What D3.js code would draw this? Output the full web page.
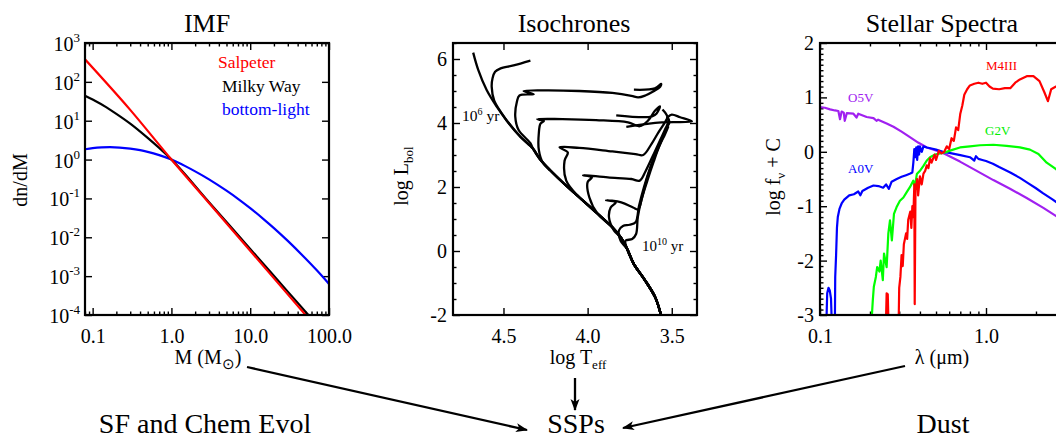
<!DOCTYPE html>
<html><head><meta charset="utf-8">
<script src="https://cdn.jsdelivr.net/npm/d3@7"></script>
<style>
body{margin:0;background:#fff}
svg{display:block;font-family:"Liberation Serif","Times New Roman",serif}
</style>
</head><body><script>
// ---------------- DATA ----------------
// IMF panel: [mass (Msun), dn/dM]
const imfSalpeter = [[0.08,380],[0.3,19],[1,1],[3,0.076],[10,0.0045],[30,3.4e-4],[100,2.0e-5]];
const imfMilkyWay = [[0.08,44],[0.1,35],[0.15,22],[0.2,15],[0.3,8.4],[0.5,3.6],[0.7,1.98],[1,1],[3,0.08],[10,0.005],[30,4.0e-4],[100,2.5e-5]];
const imfBottomLight = [[0.08,1.84],[0.1,1.96],[0.13,2.05],[0.166,2.08],[0.22,2.04],[0.3,1.92],[0.4,1.75],[0.5,1.58],[0.7,1.3],[1,1.0],[1.5,0.678],[2,0.497],[3,0.31],[5,0.158],[7,0.0977],[10,0.0562],[15,0.0286],[20,0.01725],[30,0.00807],[50,0.00288],[70,0.00141],[100,0.00063]];
const imfXTicks = [0.1,1,10,100];
const imfXLabels = ["0.1","1.0","10.0","100.0"];
const imfYExps = [-4,-3,-2,-1,0,1,2,3];
const imfLegend = [["Salpeter","#ff0000"],["Milky Way","#000000"],["bottom-light","#0000ff"]];

// Isochrones: [log Teff, log L]
const mainSeq = [[3.563,-2.02],[3.598,-1.45],[3.657,-0.93],[3.725,-0.41],[3.765,0.06],[3.804,0.43],[3.853,0.74],[3.971,1.31],[4.05,1.68],[4.127,2.04],[4.224,2.53],[4.284,2.875],[4.325,3.2],[4.40,3.57],[4.48,4.07],[4.54,4.51],[4.6,5.03],[4.65,5.66],[4.68,6.2]];
const iso65 = [[4.51,4.3],[4.555,4.7],[4.57,5.13],[4.565,5.4],[4.55,5.6],[4.52,5.7],[4.44,5.8],[4.34,5.95]];
const iso70 = [[4.34,3.37],[4.41,3.78],[4.43,4.2],[4.42,4.67],[4.405,4.86],[4.32,4.9],[4.38,5.0],[4.25,5.02],[4.05,5.0],[3.853,4.94],[3.74,4.85],[3.70,4.8],[3.657,4.86],[3.608,4.99],[3.569,5.13],[3.563,5.22],[3.60,5.08],[3.725,5.04]];
const iso75 = [[4.224,2.53],[4.265,2.75],[4.29,3.16],[4.29,3.68],[4.28,3.98],[4.26,4.06],[4.30,4.12],[4.15,4.12],[3.95,4.09],[3.76,4.02],[3.69,3.9],[3.64,4.08],[3.60,4.38],[3.57,4.52],[3.59,4.3],[3.62,4.2],[3.83,4.24]];
const iso80 = [[4.05,1.68],[4.127,2.2],[4.137,2.82],[4.118,3.08],[4.167,3.24],[4.05,3.22],[3.853,3.11],[3.716,3.03],[3.67,3.0],[3.62,3.35],[3.58,3.7],[3.545,3.98],[3.52,4.2],[3.50,4.26],[3.45,4.18],[3.38,4.05],[3.56,4.02],[3.77,3.88]];
const iso85 = [[3.94,1.16],[3.99,1.68],[4.0,2.15],[3.975,2.3],[4.027,2.37],[3.88,2.3],[3.74,2.25],[3.69,2.2],[3.655,2.5],[3.61,3.0],[3.57,3.45],[3.54,3.8],[3.52,4.05],[3.53,4.25],[3.555,4.42]];
const iso90 = [[3.843,0.64],[3.873,1.05],[3.863,1.36],[3.833,1.52],[3.89,1.59],[3.80,1.52],[3.73,1.36],[3.70,1.3],[3.675,1.7],[3.645,2.3],[3.605,2.9],[3.565,3.4],[3.535,3.8],[3.515,4.05],[3.53,4.2]];
const iso95 = [[3.804,0.32],[3.814,0.64],[3.79,0.78],[3.75,0.82],[3.715,0.9],[3.695,1.4],[3.665,2.0],[3.625,2.65],[3.585,3.2],[3.55,3.6],[3.525,3.9],[3.51,4.05]];
const iso100 = [[3.765,0.06],[3.775,0.32],[3.735,0.375],[3.712,0.53],[3.702,1.05],[3.68,1.6],[3.645,2.2],[3.607,2.8],[3.572,3.3],[3.54,3.65],[3.52,3.9]];
const isoXTicks = [4.5,4.0,3.5];
const isoYTicks = [-2,0,2,4,6];

// Stellar spectra: [lambda (micron), log f_nu + C]
const specO5V = [[0.1,0.82],[0.107,0.81],[0.115,0.78],[0.123,0.76],[0.129,0.75],[0.132,0.6],[0.135,0.74],[0.139,0.72],[0.141,0.57],[0.145,0.71],[0.159,0.70],[0.166,0.63],[0.170,0.70],[0.191,0.64],[0.21,0.62],[0.219,0.57],[0.224,0.59],[0.252,0.52],[0.277,0.46],[0.31,0.37],[0.348,0.27],[0.39,0.17],[0.44,0.08],[0.505,0.02],[0.566,-0.04],[0.697,-0.18],[0.879,-0.35],[1.107,-0.52],[1.395,-0.68],[1.758,-0.85],[2.215,-1.03],[2.67,-1.19],[3.06,-1.29]];
const specA0V = [[0.1095,-3.05],[0.1105,-2.6],[0.1125,-2.5],[0.1145,-2.55],[0.1165,-2.7],[0.1175,-3.05],[0.123,-3.05],[0.1235,-2.3],[0.125,-1.9],[0.1265,-1.4],[0.128,-1.2],[0.131,-1.05],[0.135,-0.95],[0.14,-0.88],[0.15,-0.8],[0.16,-0.78],[0.17,-0.73],[0.175,-0.8],[0.18,-0.72],[0.195,-0.66],[0.21,-0.62],[0.225,-0.63],[0.24,-0.66],[0.25,-0.6],[0.26,-0.68],[0.27,-0.55],[0.29,-0.5],[0.31,-0.46],[0.33,-0.43],[0.35,-0.4],[0.36,-0.38],[0.365,-0.2],[0.37,0.05],[0.375,-0.1],[0.38,0.08],[0.385,-0.15],[0.39,0.1],[0.395,-0.05],[0.40,0.1],[0.41,0.0],[0.42,0.1],[0.44,0.08],[0.47,0.06],[0.5,0.04],[0.55,0.0],[0.6,-0.02],[0.7,-0.06],[0.8,-0.1],[0.85,-0.16],[0.87,-0.08],[0.9,-0.13],[0.95,-0.15],[1.0,-0.17],[1.1,-0.22],[1.2,-0.28],[1.4,-0.38],[1.6,-0.48],[1.8,-0.58],[2.0,-0.67],[2.2,-0.76],[2.5,-0.87],[2.7,-0.94],[3.0,-1.04]];
const specG2V = [[0.205,-3.05],[0.208,-2.73],[0.211,-2.48],[0.217,-2.3],[0.221,-2.12],[0.228,-2.2],[0.232,-2.0],[0.239,-2.36],[0.243,-1.87],[0.252,-2.12],[0.258,-1.5],[0.264,-1.26],[0.271,-1.63],[0.279,-1.14],[0.289,-1.02],[0.303,-0.9],[0.318,-0.84],[0.333,-0.74],[0.348,-0.65],[0.365,-0.53],[0.373,-0.65],[0.383,-0.41],[0.4,-0.35],[0.42,-0.26],[0.44,-0.16],[0.46,-0.1],[0.494,-0.05],[0.53,-0.03],[0.566,-0.01],[0.62,0.03],[0.697,0.08],[0.8,0.1],[0.92,0.12],[1.107,0.13],[1.33,0.11],[1.6,0.08],[1.84,0.04],[2.07,-0.04],[2.32,-0.2],[2.64,-0.32],[3.06,-0.44]];
const specM4III = [[0.25,-3.05],[0.252,-2.6],[0.256,-2.62],[0.258,-3.05],[0.298,-3.05],[0.30,-2.5],[0.305,-2.3],[0.31,-1.9],[0.315,-2.1],[0.32,-1.7],[0.33,-1.5],[0.335,-1.6],[0.34,-1.25],[0.35,-1.1],[0.355,-1.4],[0.36,-1.0],[0.365,-1.2],[0.37,-0.6],[0.372,-2.8],[0.376,-0.7],[0.385,-0.5],[0.39,-0.8],[0.4,-0.45],[0.41,-0.6],[0.42,-0.4],[0.43,-0.35],[0.44,-0.25],[0.45,-0.3],[0.46,-0.12],[0.47,-0.2],[0.49,-0.05],[0.5,-0.15],[0.52,0.02],[0.54,-0.03],[0.56,0.0],[0.58,0.1],[0.6,0.05],[0.62,0.25],[0.64,0.2],[0.66,0.45],[0.68,0.4],[0.7,0.7],[0.72,0.85],[0.74,1.05],[0.77,1.15],[0.8,1.22],[0.85,1.25],[0.9,1.27],[0.95,1.25],[1.0,1.27],[1.05,1.2],[1.1,1.16],[1.2,1.15],[1.3,1.17],[1.4,1.17],[1.5,1.27],[1.6,1.33],[1.76,1.39],[1.93,1.39],[2.1,1.3],[2.25,1.09],[2.36,0.93],[2.47,1.15],[2.64,1.2],[3.0,1.22]];
const specXTicks = [0.1,1];
const specXLabels = ["0.1","1.0"];
const specYTicks = [-3,-2,-1,0,1,2];

// ---------------- DRAW ----------------
const W=1056,H=439;
const svg=d3.select("body").append("svg").attr("width",W).attr("height",H);
const FS=20;
const hyph = f => (d => f(d).replace("\u2212","-"));

const defs=svg.append("defs");
defs.append("marker").attr("id","ah").attr("viewBox","0 -5 12 10").attr("refX",11).attr("refY",0)
  .attr("markerWidth",12).attr("markerHeight",10).attr("markerUnits","userSpaceOnUse").attr("orient","auto")
  .append("path").attr("d","M0,-4.5L12,0L0,4.5L3,0Z").attr("fill","#000");

function clip(id,x0,x1,y0,y1){
  defs.append("clipPath").attr("id",id).append("rect").attr("x",x0).attr("y",y0).attr("width",x1-x0).attr("height",y1-y0);
}
function styleAxis(g){
  g.select(".domain").remove();
  g.selectAll("line").attr("stroke","#000").attr("stroke-width",1.4);
  g.selectAll("text").attr("font-size",FS).attr("fill","#000").attr("font-family","Liberation Serif");
}
function axes(x,y,xMaj,xMin,yMaj,yMin,x0,x1,y0,y1,xFmt,yFmt){
  const L=7,S=3.5;
  const put=(gen,tr)=>{const g=svg.append("g").attr("transform",tr).call(gen);styleAxis(g);return g;};
  put(d3.axisBottom(x).tickValues(xMaj).tickSize(-L).tickPadding(14).tickFormat(xFmt||""),`translate(0,${y1})`);
  put(d3.axisTop(x).tickValues(xMaj).tickSize(-L).tickFormat(""),`translate(0,${y0})`);
  if(xMin.length){
    put(d3.axisBottom(x).tickValues(xMin).tickSize(-S).tickFormat(""),`translate(0,${y1})`);
    put(d3.axisTop(x).tickValues(xMin).tickSize(-S).tickFormat(""),`translate(0,${y0})`);
  }
  put(d3.axisLeft(y).tickValues(yMaj).tickSize(-L).tickPadding(6).tickFormat(yFmt||""),`translate(${x0},0)`);
  put(d3.axisRight(y).tickValues(yMaj).tickSize(-L).tickFormat(""),`translate(${x1},0)`);
  if(yMin.length){
    put(d3.axisLeft(y).tickValues(yMin).tickSize(-S).tickFormat(""),`translate(${x0},0)`);
    put(d3.axisRight(y).tickValues(yMin).tickSize(-S).tickFormat(""),`translate(${x1},0)`);
  }
}
function frame(x0,x1,y0,y1){
  svg.append("rect").attr("x",x0).attr("y",y0).attr("width",x1-x0).attr("height",y1-y0)
    .attr("fill","none").attr("stroke","#000").attr("stroke-width",2.2);
}
function title(t,cx){
  svg.append("text").attr("x",cx).attr("y",32).attr("text-anchor","middle").attr("font-size",26).text(t);
}
function ylabel(cx,cy,build){
  const t=svg.append("text").attr("transform",`translate(${cx},${cy}) rotate(-90)`).attr("text-anchor","middle").attr("font-size",FS);
  build(t);
}

// ---- IMF ----
{
  const x0=85,x1=329,y0=43,y1=315;
  const x=d3.scaleLog().domain([0.08,100]).range([x0,x1]);
  const y=d3.scaleLog().domain([1e-4,1e3]).range([y1,y0]);
  clip("cImf",x0,x1,y0,y1);
  const xMin=[];
  [0.01,0.1,1,10].forEach(d=>{for(let k=2;k<=9;k++){const v=d*k;if(v>=0.08&&v<=100)xMin.push(v);}});
  axes(x,y,imfXTicks,xMin,imfYExps.map(e=>Math.pow(10,e)),[],x0,x1,y0,y1,(d,i)=>imfXLabels[i],null);
  const gy=svg.append("g");
  imfYExps.forEach(e=>{
    const t=gy.append("text").attr("x",x0-5).attr("y",y(Math.pow(10,e))+8).attr("text-anchor","end").attr("font-size",FS);
    t.append("tspan").text("10");
    t.append("tspan").attr("font-size",13).attr("dy",-9).text(e);
  });
  const line=d3.line().x(d=>x(d[0])).y(d=>y(d[1])).curve(d3.curveMonotoneX);
  const g=svg.append("g").attr("clip-path","url(#cImf)");
  g.append("path").datum(imfBottomLight).attr("d",line).attr("fill","none").attr("stroke","#0000ff").attr("stroke-width",2.2);
  g.append("path").datum(imfMilkyWay).attr("d",line).attr("fill","none").attr("stroke","#000").attr("stroke-width",2.2);
  g.append("path").datum(imfSalpeter).attr("d",line).attr("fill","none").attr("stroke","#ff0000").attr("stroke-width",2.2);
  frame(x0,x1,y0,y1);
  const lx=[218,222,222], ly=[68,92,115];
  imfLegend.forEach((d,i)=>svg.append("text").attr("x",lx[i]).attr("y",ly[i]).attr("font-size",17.5).attr("fill",d[1]).text(d[0]));
  title("IMF",207);
  const t=svg.append("text").attr("x",208).attr("y",364).attr("text-anchor","middle").attr("font-size",FS);
  t.append("tspan").text("M (M");
  t.append("tspan").attr("font-size",15).attr("dy",5).text("\u2299");
  t.append("tspan").attr("dy",-5).text(")");
  ylabel(27,180,t=>t.text("dn/dM"));
}

// ---- Isochrones ----
{
  const x0=453,x1=697,y0=43,y1=315;
  const x=d3.scaleLinear().domain([4.8,3.35]).range([x0,x1]);
  const y=d3.scaleLinear().domain([-2,6.5]).range([y1,y0]);
  clip("cIso",x0,x1,y0,y1);
  const yMin=d3.range(-2,6.51,0.5).filter(v=>v%2!==0);
  axes(x,y,isoXTicks,[],isoYTicks,yMin,x0,x1,y0,y1,d3.format(".1f"),hyph(d3.format("d")));
  const line=d3.line().x(d=>x(d[0])).y(d=>y(d[1])).curve(d3.curveCatmullRom.alpha(0.5));
  const g=svg.append("g").attr("clip-path","url(#cIso)");
  const isos=[iso65,iso70,iso75,iso80,iso85,iso90,iso95,iso100];
  const drawIso=pts=>g.append("path").datum(pts).attr("d",line).attr("fill","none").attr("stroke","#000").attr("stroke-width",2.3).attr("stroke-linejoin","round");
  drawIso(mainSeq);
  isos.forEach(iso=>drawIso(mainSeq.filter(p=>p[1]<iso[0][1]).concat(iso)));
  frame(x0,x1,y0,y1);
  const a=svg.append("text").attr("x",462).attr("y",121).attr("font-size",15.5);
  a.append("tspan").text("10"); a.append("tspan").attr("font-size",10).attr("dy",-6).text("6"); a.append("tspan").attr("dy",6).text(" yr");
  const b=svg.append("text").attr("x",642).attr("y",251).attr("font-size",15);
  b.append("tspan").text("10"); b.append("tspan").attr("font-size",10).attr("dy",-6).text("10"); b.append("tspan").attr("dy",6).text(" yr");
  title("Isochrones",574);
  const t=svg.append("text").attr("x",578).attr("y",364).attr("text-anchor","middle").attr("font-size",FS);
  t.append("tspan").text("log T"); t.append("tspan").attr("font-size",13).attr("dy",5).text("eff");
  ylabel(408,176,t=>{t.append("tspan").text("log L"); t.append("tspan").attr("font-size",13).attr("dy",5).text("bol");});
}

// ---- Stellar spectra ----
{
  const x0=820,x1=1064,y0=43,y1=315;
  const x=d3.scaleLog().domain([0.1,2.95]).range([x0,x1]);
  const y=d3.scaleLinear().domain([-3,2]).range([y1,y0]);
  clip("cSpec",x0,x1,y0,y1);
  const xMin=[0.2,0.3,0.4,0.5,0.6,0.7,0.8,0.9,2];
  const yMin=d3.range(-30,21).map(v=>v/10).filter(v=>Math.abs(v-Math.round(v))>1e-6);
  axes(x,y,specXTicks,xMin,specYTicks,yMin,x0,x1,y0,y1,(d,i)=>specXLabels[i],hyph(d3.format("d")));
  const line=d3.line().x(d=>x(d[0])).y(d=>y(d[1]));
  const g=svg.append("g").attr("clip-path","url(#cSpec)");
  [[specO5V,"#a020f0"],[specA0V,"#0000ff"],[specG2V,"#00ff00"],[specM4III,"#ff0000"]].forEach(s=>
    g.append("path").datum(s[0]).attr("d",line).attr("fill","none").attr("stroke",s[1]).attr("stroke-width",2.2).attr("stroke-linejoin","round"));
  frame(x0,x1,y0,y1);
  [["O5V","#a020f0",848,102],["A0V","#0000ff",848,173],["G2V","#00ee00",985,135],["M4III","#ff0000",986,70]].forEach(d=>
    svg.append("text").attr("x",d[2]).attr("y",d[3]).attr("font-size",13).attr("fill",d[1]).text(d[0]));
  title("Stellar Spectra",942);
  svg.append("text").attr("x",942).attr("y",364).attr("text-anchor","middle").attr("font-size",FS).text("\u03bb (\u03bcm)");
  ylabel(780,177,t=>{t.append("tspan").text("log f"); t.append("tspan").attr("font-size",13).attr("dy",5).text("\u03bd"); t.append("tspan").attr("dy",-5).text(" + C");});
}

// ---- bottom row ----
[["SF and Chem Evol",205],["SSPs",576],["Dust",943]].forEach(d=>
  svg.append("text").attr("x",d[1]).attr("y",433).attr("text-anchor","middle").attr("font-size",28).text(d[0]));
[[[247,367],[527,430]],[[575,378],[575,410]],[[905,366],[623,428]]].forEach(a=>
  svg.append("line").attr("x1",a[0][0]).attr("y1",a[0][1]).attr("x2",a[1][0]).attr("y2",a[1][1])
    .attr("stroke","#000").attr("stroke-width",2.3).attr("marker-end","url(#ah)"));
</script></body></html>
